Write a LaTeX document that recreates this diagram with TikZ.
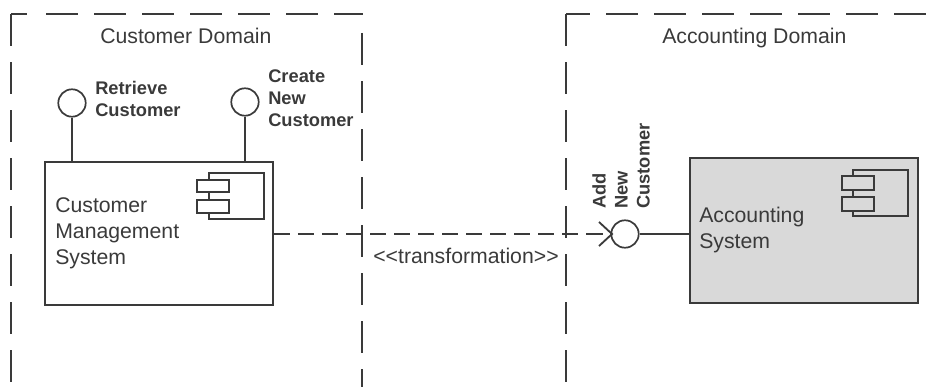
\documentclass[tikz,border=0pt]{standalone}
\usepackage{fontspec}
\setmainfont{Liberation Sans}
\usepackage{tikz}
\tikzset{>=latex}
\usetikzlibrary{calc,positioning}
\definecolor{linegray}{HTML}{3A3A3A}
\definecolor{boxgray}{HTML}{D9D9D9}
\tikzset{
    frameline/.style={draw=linegray, line width=1.5pt, dash pattern=on 22.76pt off 11.38pt},
    compbox/.style={draw=linegray, line width=1.4pt, rectangle, inner sep=0pt},
    ballnode/.style={draw=linegray, line width=1.2pt, circle, fill=white, inner sep=0pt, minimum size=19.5pt},
    thinline/.style={draw=linegray, line width=1.3pt},
    plainlabel/.style={align=left, anchor=west, inner sep=0pt, text=linegray, font=\fontsize{15.1}{18.5}\selectfont},
    boldlabel/.style={align=left, anchor=west, inner sep=0pt, text=linegray, font=\fontsize{13}{15.6}\selectfont\bfseries},
}
\begin{document}
\begin{tikzpicture}[x=0.025cm, y=-0.025cm]
    \useasboundingbox (0,0) rectangle (934,387);
    % domains
    \draw[frameline] (11,14) -- (11,387);
    \draw[frameline] (46,14) -- (363,14);
    \draw[frameline] (11,14) -- (27,14);
    \draw[frameline] (362,33) -- (362,387);
    \draw[frameline] (566,14) -- (566,387);
    \draw[frameline] (606,14) -- (927,14);
    \draw[frameline] (566,14) -- (590,14);
    \node[plainlabel] (custdomain) at (100,36) {Customer Domain};
    \node[plainlabel] (acctdomain) at (662,38) {Accounting Domain};

    % components
    \node[compbox, minimum width=162pt, minimum height=101.7pt] (custsys) at (159,233.5) {};
    \node[compbox, fill=boxgray, minimum width=162pt, minimum height=103pt] (acctsys) at (804,230.5) {};
    \node[plainlabel] (custname) at (55,233) {Customer\\Management\\System};
    \node[plainlabel] (acctname) at (699,230) {Accounting\\System};

    % component icons
    \draw[thinline] (209,173) rectangle (264,219);
    \draw[thinline, fill=white] (197,180) rectangle (229,192);
    \draw[thinline, fill=white] (197,200) rectangle (229,213);
    \draw[thinline] (853,170) rectangle (908,216);
    \draw[thinline, fill=boxgray] (842,176) rectangle (874,190);
    \draw[thinline, fill=boxgray] (842,197) rectangle (874,211);

    % provided interfaces
    \node[ballnode] (retrieve) at (72,103) {};
    \node[ballnode] (create) at (245,102) {};
    \node[ballnode] (addnew) at (625,234) {};
    \draw[thinline] (retrieve) -- (retrieve |- custsys.north);
    \draw[thinline] (create) -- (create |- custsys.north);
    \draw[thinline] (addnew) -- (acctsys.west |- addnew);
    \node[boldlabel] (retrievetext) at (95,99) {Retrieve\\Customer};
    \node[boldlabel] (createtext) at (268,98) {Create\\New\\Customer};
    \node[boldlabel, rotate=90, anchor=south west] (addtext) at (650,209) {Add\\New\\Customer};

    % required socket and dependency
    \coordinate (sockettop) at (599,222);
    \coordinate (socketbot) at (599,246);
    \coordinate (sockettip) at (612,234);
    \draw[thinline] (sockettop) -- (sockettip) -- (socketbot);
    \draw[thinline, dash pattern=on 11.4pt off 5.7pt] (custsys.east |- sockettip) -- (sockettip);
    \node[plainlabel, anchor=center, font=\fontsize{15.1}{18}\selectfont] (transform) at (466,256) {<{}<transformation>{}>};
\end{tikzpicture}
\end{document}
